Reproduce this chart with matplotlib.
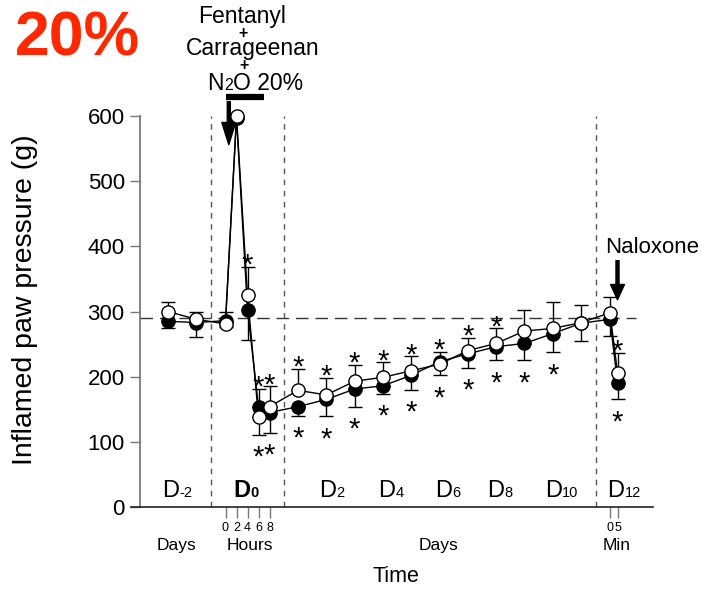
# plot.py
import numpy as np
import matplotlib.pyplot as plt
from matplotlib.transforms import IdentityTransform

plt.rcParams['font.family'] = ['Liberation Sans', 'DejaVu Sans']

# %% Data
segment = ['pre'] * 2 + ['hour'] * 5 + ['day'] * 11 + ['min'] * 2
time_val = [0, 1, 0, 2, 4, 6, 8, 1, 2, 3, 4, 5, 6, 7, 8, 9, 10, 11, 0, 5]

open_mean = [300, 288, 281, 600, 325, 138, 154, 179, 172, 193, 199, 209,
             219, 240, 251, 270, 274, 283, 298, 206]
open_err = [14, 12, 5, 0, 44, 27, 31, 33, 26, 25, 23, 22,
            17, 20, 23, 32, 40, 27, 25, 31]
filled_mean = [285, 283, 286, 597, 303, 154, 145, 154, 165, 181, 186, 202,
               223, 235, 246, 251, 266, 282, 288, 191]
filled_err = [10, 22, 13, 0, 47, 27, 31, 14, 26, 27, 12, 22,
              15, 21, 21, 26, 28, 28, 26, 26]

star_above = [0, 0, 0, 0, 1, 1, 1, 1, 1, 1, 1, 1, 1, 1, 1, 0, 0, 0, 0, 1]
star_below = [0, 0, 0, 0, 0, 1, 1, 1, 1, 1, 1, 1, 1, 1, 1, 1, 1, 0, 0, 1]

baseline = 290
hour_ticks = [0, 2, 4, 6, 8]
min_ticks = [0, 5]


# %% Position along the broken time axis
def to_axis(seg, t):
    if seg == 'pre':
        return 168.0 + 28.3 * t
    if seg == 'hour':
        return 225.5 + 5.5 * t
    if seg == 'day':
        return 298.0 + 28.3 * (t - 1)
    return 610.0 + 1.5 * t


x = np.array([to_axis(s, t) for s, t in zip(segment, time_val)])
om, oe = np.array(open_mean, float), np.array(open_err, float)
fm, fe = np.array(filled_mean, float), np.array(filled_err, float)

# error bars point away from the other group
o_hi = om >= fm
o_up, o_dn = np.where(o_hi, oe, 0), np.where(o_hi, 0, oe)
f_up, f_dn = np.where(o_hi, 0, fe), np.where(o_hi, fe, 0)

# %% Figure
W, H = 713, 589
fig = plt.figure(figsize=(W / 100, H / 100), dpi=100)
ax = fig.add_axes([131 / W, 82 / H, 522 / W, 391 / H])
ax.set_xlim(131, 653)
ax.set_ylim(0, 600)

for s in ['top', 'right']:
    ax.spines[s].set_visible(False)
ax.spines['left'].set_position(('data', 140))
ax.spines['left'].set_color('#777777')
ax.spines['left'].set_linewidth(1.3)
ax.spines['bottom'].set_color('#222222')
ax.spines['bottom'].set_linewidth(1.2)

ax.set_yticks(range(0, 700, 100))
ax.tick_params(axis='y', length=7, width=1, color='#777777', labelsize=16, pad=4)

xt = [to_axis('hour', h) for h in hour_ticks] + [to_axis('min', m) for m in min_ticks]
ax.set_xticks(xt)
ax.set_xticklabels([str(h) for h in hour_ticks] + [str(m) for m in min_ticks])
ax.tick_params(axis='x', length=8, width=1, color='#777777', labelsize=9, pad=3)

# reference lines
ax.hlines(baseline, 140, 636, colors='#333333', linewidth=1, linestyles=(0, (9, 5)), zorder=1)
seps = [(x[1] + x[2]) / 2, (x[6] + x[7]) / 2, (x[17] + x[18]) / 2]
ax.vlines(seps, 0, 600, colors='#555555', linewidth=1, linestyles=(0, (4, 4)), zorder=1)

# error bars
ax.errorbar(x, om, yerr=[o_dn, o_up], fmt='none', ecolor='k', elinewidth=1,
            capsize=5, capthick=1, zorder=2, clip_on=False)
ax.errorbar(x, fm, yerr=[f_dn, f_up], fmt='none', ecolor='k', elinewidth=1,
            capsize=5, capthick=1, zorder=2, clip_on=False)

# curves
ax.plot(x, fm, '-o', color='k', mfc='k', mec='k', ms=9.5, lw=1, clip_on=False, zorder=3)
ax.plot(x, om, '-o', color='k', mfc='white', mec='k', ms=9.5, mew=1, lw=1,
        clip_on=False, zorder=4)

# significance stars
top = np.maximum(om + o_up, fm + f_up)
bot = np.minimum(om - o_dn, fm - f_dn)
for i in range(len(x)):
    if star_above[i]:
        ax.annotate('*', xy=(x[i], top[i]), xytext=(0, -5), textcoords='offset points',
                    ha='center', va='baseline', fontsize=21)
    if star_below[i]:
        ax.annotate('*', xy=(x[i], bot[i]), xytext=(0, -22.5), textcoords='offset points',
                    ha='center', va='baseline', fontsize=21)

# treatment bar and arrows
ax.plot([to_axis('hour', 0), to_axis('hour', 7)], [629, 629], color='k', lw=4.5,
        solid_capstyle='butt', clip_on=False)
ax.annotate('', xy=(to_axis('hour', 0.6), 556), xytext=(to_axis('hour', 0.6), 622),
            arrowprops=dict(width=2.2, headwidth=10, headlength=16, color='k'),
            annotation_clip=False)
ax.annotate('', xy=(to_axis('min', 5), 318), xytext=(to_axis('min', 5), 378),
            arrowprops=dict(width=2.2, headwidth=10, headlength=11, color='k'),
            annotation_clip=False)


# %% Texts placed in pixels (from top-left)
renderer = fig.canvas.get_renderer()


def rich_text(xp, yp, parts, ha='center', color='k'):
    arts = [fig.text(0, 0, s, fontsize=size, fontweight=w, color=color, va='baseline',
                     ha='left', transform=IdentityTransform()) for s, size, w in parts]
    widths = [a.get_window_extent(renderer).width for a in arts]
    x0 = xp - sum(widths) / 2 if ha == 'center' else xp
    for a, wd in zip(arts, widths):
        a.set_position((x0, H - yp))
        x0 += wd


rich_text(15, 55, [('20%', 45, 'bold')], ha='left', color='#ff2800')
rich_text(242, 23, [('Fentanyl', 16.5, 'normal')])
rich_text(243, 38, [('+', 11.5, 'bold')])
rich_text(253, 55, [('Carrageenan', 16.5, 'normal')])
rich_text(244, 70, [('+', 11.5, 'bold')])
rich_text(255, 90, [('N', 16.5, 'normal'), ('2', 11.5, 'normal'), ('O 20%', 16.5, 'normal')])
rich_text(652, 253, [('Naloxone', 16, 'normal')])

d_labels = [(177.5, '-2', 'normal'), (245.6, '0', 'bold'), (332, '2', 'normal'),
            (391, '4', 'normal'), (448, '6', 'normal'), (500, '8', 'normal'),
            (562, '10', 'normal'), (624, '12', 'normal')]
for xp, num, w in d_labels:
    rich_text(xp, 497, [('D', 17, w), (num, 10.5, w)])

for xp, s in [(176, 'Days'), (250, 'Hours'), (439, 'Days'), (617, 'Min')]:
    rich_text(xp, 550, [(s, 12.5, 'normal')])
rich_text(396, 582, [('Time', 15.5, 'normal')])

fig.text(25 / W, 1 - 300 / H, 'Inflamed paw pressure (g)', rotation=90,
         ha='center', va='center', fontsize=20.5)

fig.savefig('out.png', dpi=100)
